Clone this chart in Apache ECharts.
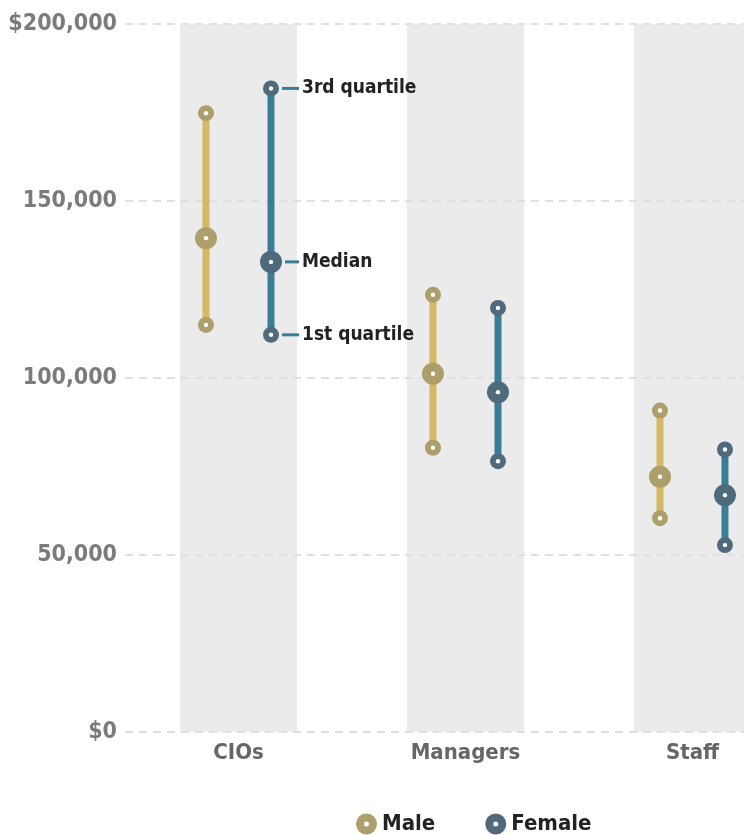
<!DOCTYPE html>
<html>
<head>
<meta charset="utf-8">
<script src="https://cdn.jsdelivr.net/npm/echarts@6/dist/echarts.min.js"></script>
<style>
html, body { margin: 0; padding: 0; background: #fff; }
#chart { width: 744px; height: 835px; }
</style>
</head>
<body>
<div id="chart"></div>
<script>
// data
var categories = ['CIOs', 'Managers', 'Staff'];
var maleQ1 = [115000, 80300, 60400];
var maleMedian = [139500, 101200, 72100];
var maleQ3 = [174800, 123500, 90800];
var femaleQ1 = [112200, 76500, 52800];
var femaleMedian = [132800, 96000, 66900];
var femaleQ3 = [181800, 119800, 79800];
var yTickLabels = { 0: '$0', 50000: '50,000', 100000: '100,000', 150000: '150,000', 200000: '$200,000' };
var bandTop = [200000, 200000, 200000];
var noteLabels = ['1st quartile', 'Median', '3rd quartile'];

var font = '"DejaVu Sans Condensed", "DejaVu Sans", sans-serif';
var ring = 'path://M10,0 A10,10 0 1,1 10,20 A10,10 0 1,1 10,0 Z M10,7.6 A2.4,2.4 0 1,0 10,12.4 A2.4,2.4 0 1,0 10,7.6 Z';

function rows(q1, med, q3) {
	return categories.map(function (c, i) { return [i, q1[i], med[i], q3[i]]; });
}

function makeRender(lineColor, dotColor, offset, notes) {
	return function (params, api) {
		var idx = api.value(0);
		var p1 = api.coord([idx, api.value(1)]);
		var pm = api.coord([idx, api.value(2)]);
		var p3 = api.coord([idx, api.value(3)]);
		var cx = p1[0] + offset;
		var kids = [{
			type: 'line',
			shape: { x1: cx, y1: p3[1], x2: cx, y2: p1[1] },
			style: { stroke: lineColor, lineWidth: 7 }
		}];
		[[p1[1], 8], [pm[1], 11], [p3[1], 8]].forEach(function (d) {
			kids.push({ type: 'circle', shape: { cx: cx, cy: d[0], r: d[1] }, style: { fill: dotColor } });
			kids.push({ type: 'circle', shape: { cx: cx, cy: d[0], r: 2.2 }, style: { fill: '#fff' } });
		});
		if (notes && params.dataIndex === 0) {
			[p1[1], pm[1], p3[1]].forEach(function (y, k) {
				var gap = k === 1 ? 14 : 11;
				kids.push({
					type: 'line',
					shape: { x1: cx + gap, y1: y, x2: cx + 28, y2: y },
					style: { stroke: '#3a7d96', lineWidth: 3 }
				});
				kids.push({
					type: 'text',
					style: {
						x: cx + 31, y: y, text: noteLabels[k],
						fill: '#222', font: 'bold 19px ' + font,
						verticalAlign: 'middle', align: 'left'
					}
				});
			});
		}
		return { type: 'group', children: kids };
	};
}

var chart = echarts.init(document.getElementById('chart'));
chart.setOption({
	animation: false,
	grid: { left: 125, right: 0, top: 24, bottom: 103 },
	legend: {
		data: [{ name: 'Male', icon: ring }, { name: 'Female', icon: ring }],
		left: 351, top: 808,
		itemWidth: 21, itemHeight: 21, itemGap: 50,
		textStyle: { fontFamily: font, fontWeight: 'bold', fontSize: 22, color: '#222' }
	},
	xAxis: {
		// the picture is cut at the right edge, so the last band runs past the canvas
		type: 'value',
		min: -0.5, max: 2.227,
		axisLine: { show: false },
		axisTick: { show: false },
		splitLine: { show: false },
		axisLabel: {
			customValues: [0, 1, 2],
			margin: 10, fontFamily: font, fontWeight: 'bold', fontSize: 22, color: '#666',
			formatter: function (v) { return categories[Math.round(v)]; }
		}
	},
	yAxis: {
		type: 'value',
		min: 0, max: 200000, interval: 50000,
		axisLine: { show: false },
		axisTick: { show: false },
		axisLabel: {
			margin: 8,
			fontFamily: font, fontWeight: 'bold', fontSize: 23, color: '#7b7b7b',
			formatter: function (v) { return yTickLabels[v]; }
		},
		splitLine: { lineStyle: { type: [8, 6], color: '#e0e0e0', width: 2 } }
	},
	series: [
		{
			name: 'band', type: 'bar', data: bandTop.map(function (v, i) { return [i, v]; }),
			barWidth: 117, z: -1, silent: true,
			itemStyle: { color: '#ebebeb' }
		},
		{
			name: 'Male', type: 'custom', data: rows(maleQ1, maleMedian, maleQ3),
			encode: { x: 0, y: [1, 2, 3] },
			itemStyle: { color: '#ad9f6b' },
			renderItem: makeRender('#d4b864', '#ad9f6b', -32.5, false)
		},
		{
			name: 'Female', type: 'custom', data: rows(femaleQ1, femaleMedian, femaleQ3),
			encode: { x: 0, y: [1, 2, 3] },
			itemStyle: { color: '#4f6a7c' },
			renderItem: makeRender('#3a7d96', '#4f6a7c', 32.5, true)
		}
	]
});
</script>
</body>
</html>
